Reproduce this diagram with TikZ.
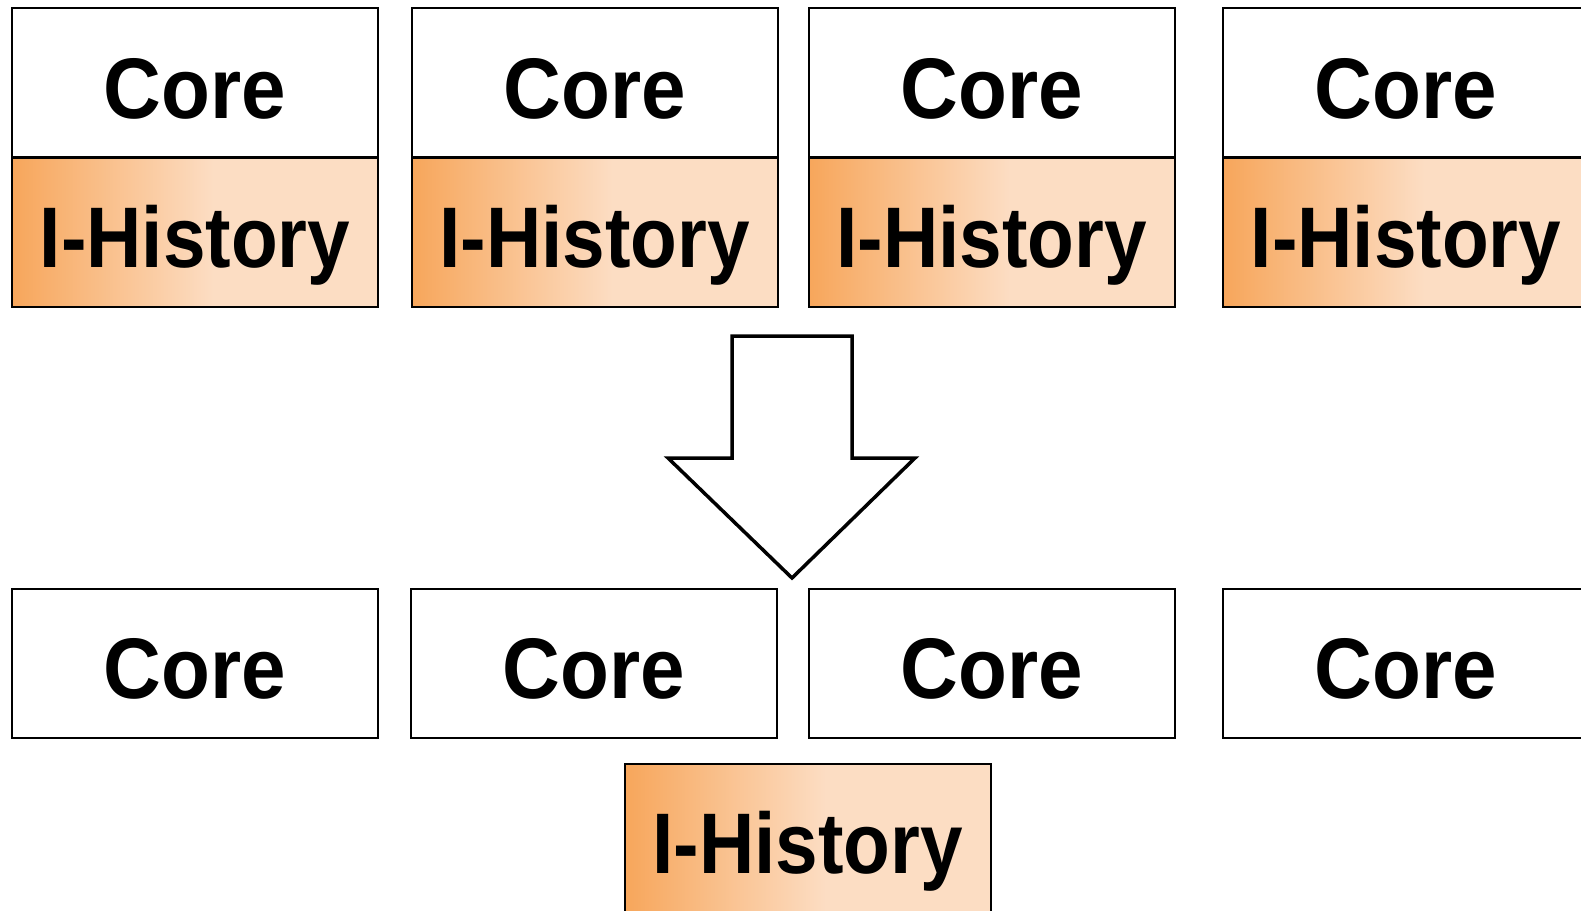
\documentclass[tikz,border=0pt]{standalone}
\usepackage{fontspec}
\setmainfont{Liberation Sans}
\usetikzlibrary{calc}
\definecolor{hOrange}{HTML}{F7A65B}
\definecolor{hLight}{HTML}{FCDDC3}
\newcommand{\corelbl}{\scalebox{0.93}[1]{\fontsize{86}{86}\selectfont\bfseries Core}}
\newcommand{\histlbl}{\scalebox{0.89}[1]{\fontsize{86}{86}\selectfont\bfseries I-History}}
\tikzset{
  cell/.style={draw=black, line width=2pt, minimum width=366pt, minimum height=149pt, inner sep=0pt, fill=white, text height=71pt, text depth=0pt},
  corecell/.style={cell},
  histcell/.style={cell, path picture={
      \fill[hLight] (path picture bounding box.south west) rectangle (path picture bounding box.north east);
      \shade[left color=hOrange, right color=hLight] (path picture bounding box.south west) rectangle ($(path picture bounding box.north west)!0.55!(path picture bounding box.north east)$);
    }},
  bigarrow/.style={draw=black, line width=3.5pt, fill=white, line join=miter}
}
\begin{document}
\begin{tikzpicture}[x=1pt,y=-1pt]
\useasboundingbox (0,0) rectangle (1581,910);
\clip (0,0) rectangle (1581,910);
% top row
\foreach \i/\cx in {1/195, 2/594.5, 3/991.5, 4/1406} {
  \node[corecell] (tc\i) at (\cx,82.5) {\corelbl};
  \node[histcell] (th\i) at (\cx,232) {\histlbl};
}
% arrow
\draw[bigarrow] (732,336) -- (852,336) -- (852,458) -- (915,458) -- (792,578) -- (668,458) -- (732,458) -- cycle;
% bottom row
\foreach \i/\cx in {1/195, 2/594, 3/991.5, 4/1406} {
  \node[corecell] (bc\i) at (\cx,663) {\corelbl};
}
\node[histcell] (bh) at (807.5,838) {\histlbl};
\end{tikzpicture}
\end{document}
